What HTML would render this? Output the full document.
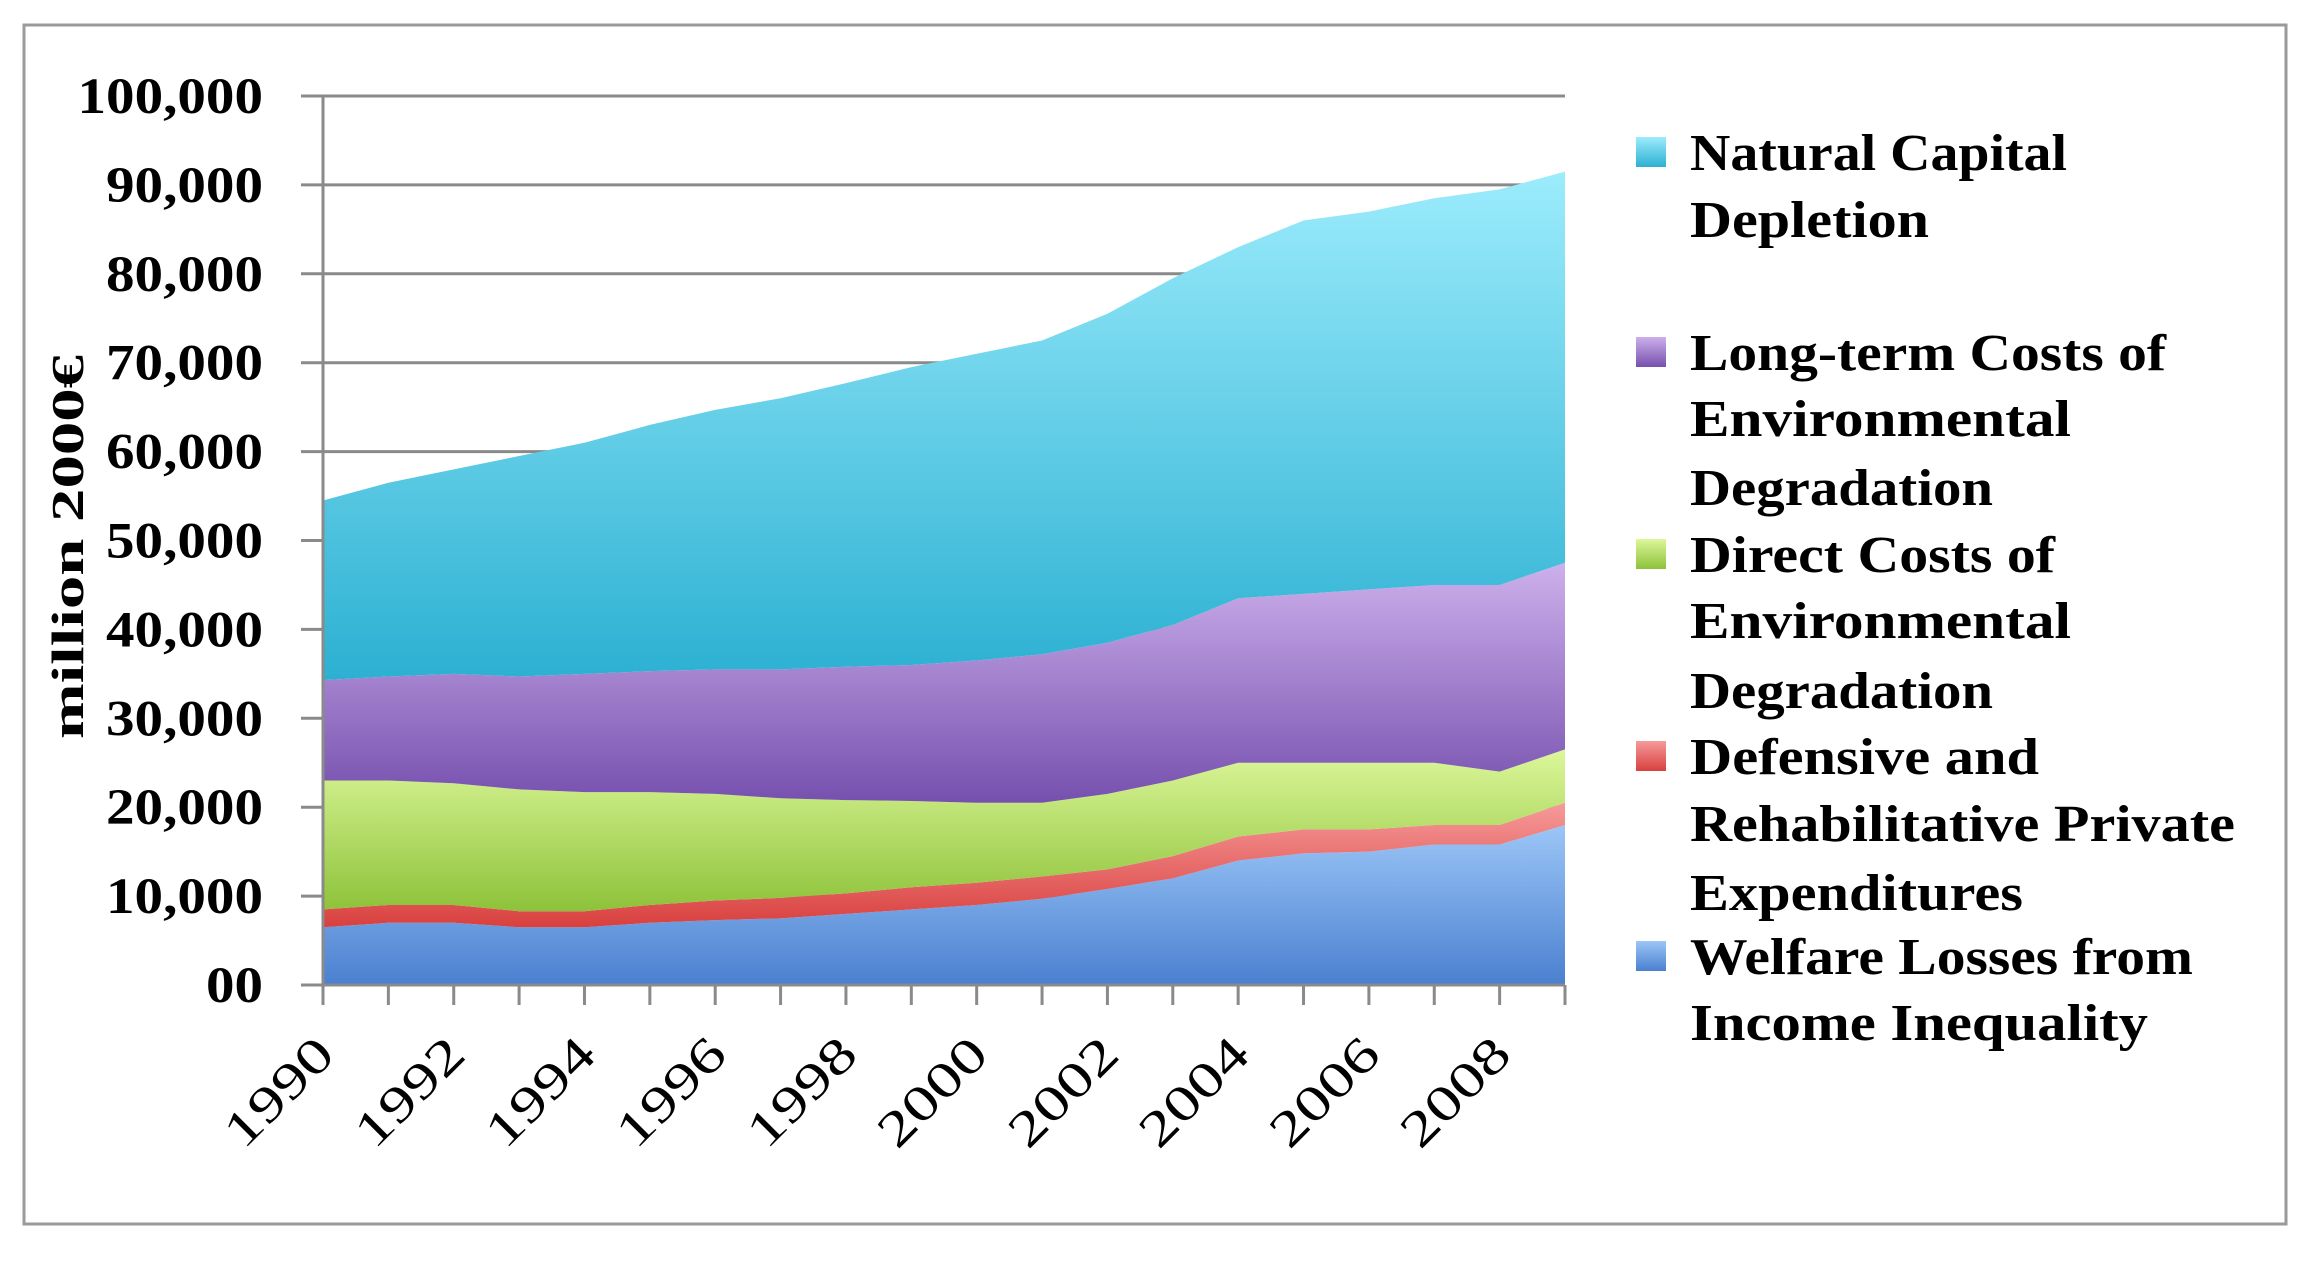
<!DOCTYPE html>
<html><head><meta charset="utf-8"><style>
html,body{margin:0;padding:0;background:#fff;}
svg{display:block;font-family:"Liberation Serif",serif;}
</style></head><body>
<svg id="chart" width="2306" height="1267" viewBox="0 0 2306 1267" xmlns="http://www.w3.org/2000/svg">
<defs>
<linearGradient id="g0" x1="0" y1="0" x2="0" y2="1"><stop offset="0" stop-color="#9cc6f7"/><stop offset="1" stop-color="#4a80d0"/></linearGradient>
<linearGradient id="g1" x1="0" y1="0" x2="0" y2="1"><stop offset="0" stop-color="#f69a9a"/><stop offset="1" stop-color="#d8403e"/></linearGradient>
<linearGradient id="g2" x1="0" y1="0" x2="0" y2="1"><stop offset="0" stop-color="#dcf79a"/><stop offset="1" stop-color="#8ec23a"/></linearGradient>
<linearGradient id="g3" x1="0" y1="0" x2="0" y2="1"><stop offset="0" stop-color="#cdb0ec"/><stop offset="1" stop-color="#7650ae"/></linearGradient>
<linearGradient id="g4" x1="0" y1="0" x2="0" y2="1"><stop offset="0" stop-color="#9cecfc"/><stop offset="1" stop-color="#2cb0d2"/></linearGradient>
</defs>
<rect x="24" y="25" width="2262" height="1199" fill="#fff" stroke="#9a9a9a" stroke-width="3"/>
<g id="grid"></g>
<g id="areas"></g>
<g id="axes"></g>
<text transform="translate(83,547) rotate(-90)" text-anchor="middle" font-size="46" font-weight="bold" textLength="384" lengthAdjust="spacingAndGlyphs">million 2000€</text>
<g id="legend"></g>
</svg>
<script>
const years = [1990,1991,1992,1993,1994,1995,1996,1997,1998,1999,2000,2001,2002,2003,2004,2005,2006,2007,2008,2009];
const welfare = [6500,7000,7000,6500,6500,7000,7300,7500,8000,8500,9000,9700,10800,12000,14000,14800,15000,15800,15800,18000];
const defensive = [2000,2000,2000,1800,1800,2000,2200,2300,2300,2500,2500,2500,2200,2500,2700,2700,2500,2200,2200,2500];
const direct = [14500,14000,13700,13700,13400,12700,12000,11200,10500,9700,9000,8300,8500,8500,8300,7500,7500,7000,6000,6000];
const longterm = [11300,11700,12300,12700,13300,13600,14000,14500,15000,15300,16000,16700,17000,17500,18500,19000,19500,20000,21000,21000];
const natural = [20200,21800,23000,24800,26000,27700,29200,30500,31900,33500,34500,35300,37000,39000,39500,42000,42500,43500,44500,44000];
const yTicks = [0,10000,20000,30000,40000,50000,60000,70000,80000,90000,100000];
const yTickLabels = ["00","10,000","20,000","30,000","40,000","50,000","60,000","70,000","80,000","90,000","100,000"];
const seriesNames = ["Welfare Losses from Income Inequality","Defensive and Rehabilitative Private Expenditures","Direct Costs of Environmental Degradation","Long-term Costs of Environmental Degradation","Natural Capital Depletion"];

const NS="http://www.w3.org/2000/svg";
const X0=323,X1=1565,Y0=985,Y1=96;
const xs=i=>X0+(X1-X0)*i/(years.length-1);
const ys=v=>Y0-(Y0-Y1)*v/100000;
function mk(tag,attrs,parent){const e=document.createElementNS(NS,tag);for(const k in attrs)e.setAttribute(k,attrs[k]);parent.appendChild(e);return e;}
const grid=document.getElementById('grid'),areas=document.getElementById('areas'),axes=document.getElementById('axes'),legend=document.getElementById('legend');

yTicks.forEach((t,i)=>{
  const y=ys(t);
  if(t>0){const l=mk('line',{x1:X0,x2:X1,y1:y,y2:y,stroke:'#8a8a8a','stroke-width':3},grid);
  
  }
  const tk=mk('line',{x1:X0-22,x2:X0,y1:y,y2:y,stroke:'#8a8a8a','stroke-width':3},axes);
  
  
  const w=yTickLabels[i].length*28.5-(yTickLabels[i].includes(',')?14:0);
  const tx=mk('text',{x:263,y:y+17,'text-anchor':'end','font-size':51,'font-weight':'bold',textLength:w,lengthAdjust:'spacingAndGlyphs'},axes);
  tx.textContent=yTickLabels[i];
  
  
});

const series=[welfare,defensive,direct,longterm,natural];
const cum=years.map(()=>0);
series.forEach((s,k)=>{
  const lower=cum.slice();
  s.forEach((v,i)=>cum[i]+=v);
  let d='';
  years.forEach((_,i)=>{d+=(i?'L':'M')+xs(i)+','+ys(cum[i]);});
  for(let i=years.length-1;i>=0;i--)d+='L'+xs(i)+','+ys(lower[i]);
  d+='Z';
  const p=mk('path',{d:d,fill:'url(#g'+k+')'},areas);
  
  
});

const ax=mk('line',{x1:X0,x2:X0,y1:Y1,y2:Y0+20,stroke:'#8a8a8a','stroke-width':3},axes);


const bx=mk('line',{x1:X0,x2:X1,y1:Y0,y2:Y0,stroke:'#8a8a8a','stroke-width':3},axes);


years.forEach((yr,i)=>{
  const x=xs(i);
  const t=mk('line',{x1:x,x2:x,y1:Y0,y2:Y0+20,stroke:'#8a8a8a','stroke-width':3},axes);
  
  
  if(i%2===0){
    const tx=mk('text',{transform:'translate('+(x+14)+','+(Y0+72)+') rotate(-45)','text-anchor':'end','font-size':50,textLength:132,lengthAdjust:'spacingAndGlyphs'},axes);
    tx.textContent=String(yr);
    
    
  }
});

const legendItems=[
 {k:4,sq:152,lines:[["Natural Capital",377,170],["Depletion",239,237]]},
 {k:3,sq:352,lines:[["Long-term Costs of",476,370],["Environmental",381,436],["Degradation",303,505]]},
 {k:2,sq:554,lines:[["Direct Costs of",365,572],["Environmental",381,638],["Degradation",303,708]]},
 {k:1,sq:756,lines:[["Defensive and",349,774],["Rehabilitative Private",545,841],["Expenditures",333,910]]},
 {k:0,sq:956,lines:[["Welfare Losses from",503,974],["Income Inequality",458,1040]]}
];
legendItems.forEach(it=>{
  const g=mk('g',{},legend);
  
  
  const r=mk('rect',{x:1636,y:it.sq-15,width:30,height:30,fill:'url(#g'+it.k+')'},g);
  
  
  it.lines.forEach(l=>{
    const t=mk('text',{x:1690,y:l[2],'font-size':52,'font-weight':'bold',textLength:l[1],lengthAdjust:'spacingAndGlyphs'},g);
    t.textContent=l[0];
    
    
  });
});
</script>
</body></html>
